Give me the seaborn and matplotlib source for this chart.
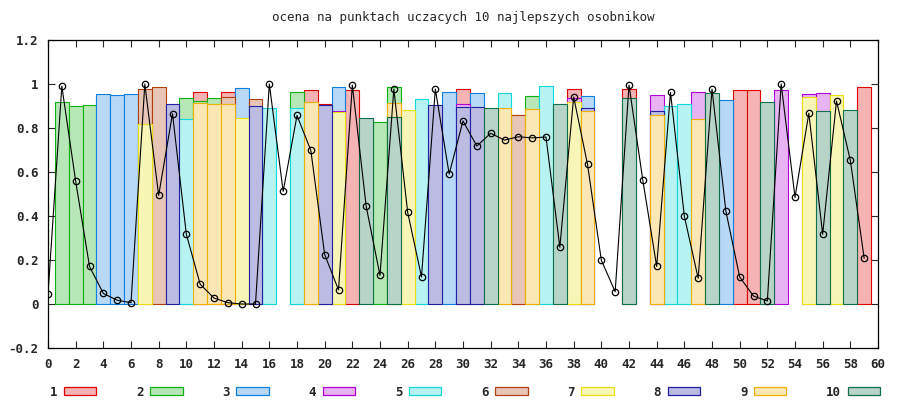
import numpy as np
import pandas as pd
import matplotlib
matplotlib.use('Agg')
import matplotlib.pyplot as plt
import matplotlib.colors as mcolors
from matplotlib.patches import Patch
import seaborn as sns

# ocena najlepszego osobnika w kazdym punkcie uczacym (linia)
punkty = list(range(60))
ocena = [0.044, 0.99, 0.558, 0.171, 0.048, 0.017, 0.006, 1.0, 0.494, 0.865,
         0.317, 0.09, 0.027, 0.006, 0.0, 0.0, 1.0, 0.512, 0.857, 0.698,
         0.225, 0.064, 0.995, 0.444, 0.13, 0.977, 0.417, 0.123, 0.977, 0.591,
         0.832, 0.718, 0.776, 0.745, 0.76, 0.755, 0.759, 0.258, 0.941, 0.635,
         0.199, 0.056, 0.995, 0.562, 0.171, 0.962, 0.399, 0.117, 0.977, 0.423,
         0.123, 0.036, 0.014, 1.0, 0.485, 0.867, 0.317, 0.923, 0.653, 0.208]

# slupki poszczegolnych osobnikow: {punkt: wartosc}
osobnik_1 = {11: 0.965, 13: 0.965, 19: 0.973, 20: 0.91, 22: 0.973, 30: 0.976,
             34: 0.86, 38: 0.976, 42: 0.977, 50: 0.973, 51: 0.973, 59: 0.985}
osobnik_2 = {1: 0.92, 2: 0.90, 3: 0.905, 10: 0.935, 11: 0.925, 12: 0.935,
             18: 0.962, 24: 0.826, 25: 0.985, 35: 0.944}
osobnik_3 = {4: 0.953, 5: 0.95, 6: 0.953, 14: 0.98, 21: 0.985, 29: 0.962,
             31: 0.958, 39: 0.944, 49: 0.927}
osobnik_4 = {21: 0.877, 30: 0.908, 38: 0.935, 44: 0.95, 47: 0.962, 53: 0.973,
             55: 0.953, 56: 0.958}
osobnik_5 = {10: 0.84, 16: 0.892, 18: 0.89, 27: 0.932, 33: 0.958, 36: 0.99,
             45: 0.9, 46: 0.908}
osobnik_6 = {7: 0.977, 8: 0.985, 13: 0.94, 15: 0.93, 34: 0.858}
osobnik_7 = {7: 0.817, 14: 0.844, 21: 0.872, 26: 0.882, 38: 0.917, 55: 0.942,
             57: 0.95}
osobnik_8 = {9: 0.908, 15: 0.9, 20: 0.905, 28: 0.905, 30: 0.895, 31: 0.895,
             39: 0.89, 44: 0.877}
osobnik_9 = {11: 0.915, 12: 0.908, 13: 0.907, 19: 0.917, 25: 0.912, 33: 0.89,
             35: 0.886, 39: 0.879, 44: 0.86, 47: 0.841}
osobnik_10 = {23: 0.844, 25: 0.85, 32: 0.89, 37: 0.908, 42: 0.935, 48: 0.958,
              52: 0.917, 56: 0.877, 58: 0.882}

osobniki = [osobnik_1, osobnik_2, osobnik_3, osobnik_4, osobnik_5,
            osobnik_6, osobnik_7, osobnik_8, osobnik_9, osobnik_10]
etykiety = [str(i) for i in range(1, 11)]

krawedzie = ['#e00000', '#10b010', '#1080e0', '#b000d8', '#10d8d8',
             '#b04010', '#e8e010', '#2020a0', '#f0b000', '#107048']
# wypelnienie jak "fill solid 0.3" w gnuplocie
wypelnienia = [tuple(0.3 * np.array(mcolors.to_rgb(c)) + 0.7) for c in krawedzie]

rows = []
for lab, d in zip(etykiety, osobniki):
    for x, v in d.items():
        rows.append({'punkt': x, 'ocena': v, 'osobnik': lab})
df = pd.DataFrame(rows)

sns.set_theme(style='ticks')
plt.rcParams['font.family'] = ['DejaVu Sans Mono', 'DejaVu Sans']

fig, ax = plt.subplots(figsize=(9, 4), dpi=100)
fig.subplots_adjust(left=48 / 900, right=878 / 900, bottom=52 / 400, top=360 / 400)

sns.barplot(data=df, x='punkt', y='ocena', hue='osobnik', hue_order=etykiety,
            palette=dict(zip(etykiety, wypelnienia)), native_scale=True,
            dodge=False, width=1, errorbar=None, saturation=1, legend=False,
            linewidth=0.8, ax=ax)
for cont, ec in zip(ax.containers, krawedzie):
    for b in cont:
        b.set_edgecolor(ec)

sns.lineplot(x=punkty, y=ocena, color='black', linewidth=0.8, marker='o',
             markersize=4.6, markerfacecolor='none', markeredgecolor='black',
             markeredgewidth=0.9, ax=ax)

ax.set_xlim(0, 60)
ax.set_ylim(-0.2, 1.2)
ax.set_xticks(range(0, 61, 2))
ax.set_yticks([-0.2, 0, 0.2, 0.4, 0.6, 0.8, 1, 1.2])
ax.set_yticklabels(['-0.2', '0', '0.2', '0.4', '0.6', '0.8', '1', '1.2'])
ax.set_xlabel('')
ax.set_ylabel('')
ax.tick_params(direction='in', top=True, right=True, length=5, width=0.8,
               labelsize=9, pad=7)
for lbl in ax.get_xticklabels() + ax.get_yticklabels():
    lbl.set_fontweight('bold')
for s in ax.spines.values():
    s.set_linewidth(0.9)
    s.set_color('black')
ax.set_title('ocena na punktach uczacych 10 najlepszych osobnikow',
             fontsize=9, pad=14)

uchwyty = [Patch(facecolor=f, edgecolor=e, linewidth=0.9, label=l)
           for f, e, l in zip(wypelnienia, krawedzie, etykiety)]
fig.legend(handles=uchwyty, loc='center left', bbox_to_anchor=(50 / 900, 8 / 400),
           ncol=10, markerfirst=False, frameon=False, handlelength=2.6,
           handleheight=0.6, handletextpad=0.5, columnspacing=3.2,
           borderpad=0, borderaxespad=0, prop={'size': 9, 'weight': 'bold'})

fig.savefig('out.png', dpi=100)
